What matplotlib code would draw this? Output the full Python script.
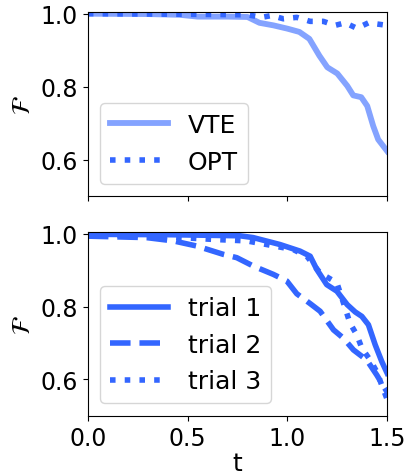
import matplotlib
matplotlib.use("Agg")
import matplotlib.pyplot as plt
import numpy as np

# Top panel data
t_vte = [0.0, 0.3, 0.46, 0.55, 0.7, 0.8, 0.86, 0.93, 1.0, 1.06, 1.11, 1.16, 1.2, 1.25, 1.30, 1.33, 1.37, 1.40, 1.43, 1.455, 1.5]
f_vte = [1.0, 0.999, 0.997, 0.992, 0.992, 0.991, 0.975, 0.968, 0.959, 0.95, 0.931, 0.885, 0.853, 0.836, 0.802, 0.776, 0.771, 0.747, 0.692, 0.655, 0.623]

t_opt = [0.0, 0.3, 0.6, 0.8, 0.871, 0.921, 0.98, 1.047, 1.114, 1.18, 1.239, 1.289, 1.348, 1.406, 1.473, 1.5]
f_opt = [1.0, 0.999, 0.998, 0.997, 0.99, 0.995, 0.986, 0.99, 0.979, 0.979, 0.968, 0.975, 0.96, 0.975, 0.97, 0.968]

# Bottom panel data
t_tr1 = [0.0, 0.4, 0.762, 0.829, 0.963, 1.063, 1.114, 1.147, 1.197, 1.248, 1.30, 1.34, 1.373, 1.406, 1.44, 1.473, 1.5]
f_tr1 = [0.998, 0.997, 0.994, 0.989, 0.97, 0.952, 0.938, 0.902, 0.86, 0.842, 0.805, 0.785, 0.773, 0.75, 0.695, 0.649, 0.617]

t_tr2 = [0.0, 0.294, 0.428, 0.545, 0.679, 0.746, 0.829, 0.93, 0.997, 1.047, 1.114, 1.164, 1.231, 1.281, 1.331, 1.398, 1.448, 1.5]
f_tr2 = [0.993, 0.989, 0.98, 0.966, 0.943, 0.934, 0.911, 0.888, 0.87, 0.835, 0.808, 0.787, 0.736, 0.713, 0.681, 0.653, 0.612, 0.565]

t_tr3 = [0.0, 0.3, 0.629, 0.796, 0.896, 1.03, 1.097, 1.164, 1.248, 1.314, 1.348, 1.373, 1.415, 1.448, 1.473, 1.5]
f_tr3 = [0.998, 0.994, 0.984, 0.98, 0.97, 0.956, 0.938, 0.892, 0.865, 0.754, 0.722, 0.686, 0.653, 0.621, 0.584, 0.545]

xticks = [0.0, 0.5, 1.0, 1.5]
yticks = [0.6, 0.8, 1.0]

blue = '#3366ff'
fs = 18
tfs = 17

fig = plt.figure(figsize=(4.05, 4.77), dpi=100)
ax1 = fig.add_axes([0.217, 0.587, 0.739, 0.386])
ax2 = fig.add_axes([0.217, 0.126, 0.739, 0.386])

ax1.plot(t_vte, f_vte, color=blue, alpha=0.6, lw=4.2, label='VTE')
ax1.plot(t_opt, f_opt, color=blue, lw=4, ls=':', label='OPT')

ax2.plot(t_tr1, f_tr1, color=blue, lw=4, ls='-', label='trial 1')
ax2.plot(t_tr2, f_tr2, color=blue, lw=4, ls='--', label='trial 2')
ax2.plot(t_tr3, f_tr3, color=blue, lw=4, ls=':', label='trial 3')

for ax in (ax1, ax2):
    ax.set_xlim(0, 1.5)
    ax.set_ylim(0.5, 1.005)
    ax.set_xticks(xticks)
    ax.set_yticks(yticks)
    ax.tick_params(labelsize=tfs)
    ax.set_ylabel(r'$\mathcal{F}$', fontsize=fs)
    ax.legend(loc='lower left', fontsize=fs, handlelength=2.3)

ax1.set_xticklabels([])
ax2.set_xlabel('t', fontsize=fs, labelpad=1)

fig.savefig('out.png', dpi=100)
